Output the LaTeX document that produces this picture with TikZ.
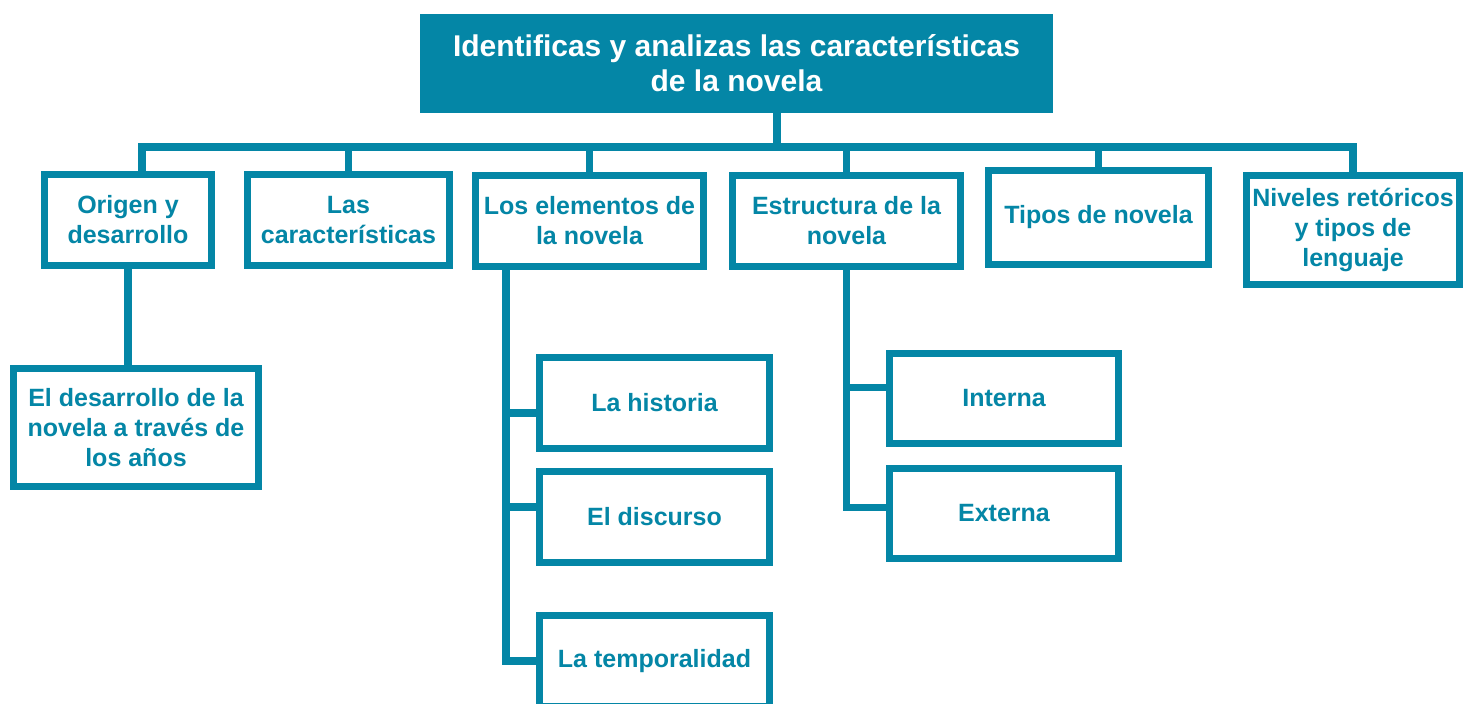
\documentclass[tikz,border=0pt]{standalone}
\usepackage{fontspec}
\setmainfont{Liberation Sans}
\usepackage{xcolor}
\usetikzlibrary{calc,positioning}

\definecolor{novela}{RGB}{4,134,166}

\tikzset{
	caja/.style={draw=novela, line width=7pt, fill=white, text=novela, inner sep=0pt,
		align=center, font=\bfseries\fontsize{25}{30}\selectfont},
	titulo/.style={fill=novela, text=white, inner sep=0pt, align=center,
		font=\bfseries\fontsize{30}{35}\selectfont},
	enlace/.style={draw=novela, line width=7.5pt}
}

\begin{document}
\begin{tikzpicture}[x=1pt,y=-1pt]
		\useasboundingbox (0,0) rectangle (1465,704);

		\node[titulo, minimum width=633pt, minimum height=99pt] (tema) at (736.5,63.5)
			{Identificas y analizas las características\\de la novela};

		\node[caja, minimum width=167pt, minimum height=91pt] (origen) at (128,220) {Origen y\\desarrollo};
		\node[caja, minimum width=202pt, minimum height=91pt] (rasgos) at (348.5,220) {Las\\características};
		\node[caja, minimum width=228pt, minimum height=91pt] (elementos) at (589.5,221) {Los elementos de\\la novela};
		\node[caja, minimum width=228pt, minimum height=91pt] (estructura) at (846.5,221) {Estructura de la\\novela};
		\node[caja, minimum width=220pt, minimum height=94pt] (tipos) at (1098.5,217.5) {Tipos de novela};
		\node[caja, minimum width=213pt, minimum height=109pt] (niveles) at (1353,230) {Niveles retóricos\\y tipos de\\lenguaje};

		\node[caja, minimum width=245pt, minimum height=118pt] (desarrollo) at (136,427.5) {El desarrollo de la\\novela a través de\\los años};

		\node[caja, minimum width=230pt, minimum height=91pt] (historia) at (654.5,403) {La historia};
		\node[caja, minimum width=230pt, minimum height=91pt] (discurso) at (654.5,517) {El discurso};
		\node[caja, minimum width=230pt, minimum height=91pt] (temporalidad) at (654.5,661) {La temporalidad};

		\node[caja, minimum width=229pt, minimum height=90pt] (interna) at (1004,398.5) {Interna};
		\node[caja, minimum width=229pt, minimum height=90pt] (externa) at (1004,513.5) {Externa};

		% barra principal
		\coordinate (eje) at (777,147);
		\draw[enlace] (tema.south -| eje) -- (eje);
		\draw[enlace] ([xshift=14pt]origen.north) |- (niveles.north |- eje) -- (niveles.north);
		\foreach \n in {rasgos,elementos,estructura,tipos}
			\draw[enlace] (\n.north |- eje) -- (\n.north);

		\draw[enlace] (origen.south) -- (desarrollo.north -| origen.south);

		% ramas de los elementos
		\coordinate (ramaE) at (506,0);
		\coordinate (bH) at ([yshift=-10pt]historia.west);
		\coordinate (bD) at ([yshift=10pt]discurso.west);
		\draw[enlace] (elementos.south -| ramaE) |- (temporalidad.west);
		\draw[enlace] (bH -| ramaE) -- (bH);
		\draw[enlace] (bD -| ramaE) -- (bD);

		% ramas de la estructura
		\coordinate (bI) at ([yshift=11pt]interna.west);
		\coordinate (bX) at ([yshift=6pt]externa.west);
		\draw[enlace] (estructura.south) |- (bX);
		\draw[enlace] (bI -| estructura.south) -- (bI);
	\end{tikzpicture}
\end{document}
